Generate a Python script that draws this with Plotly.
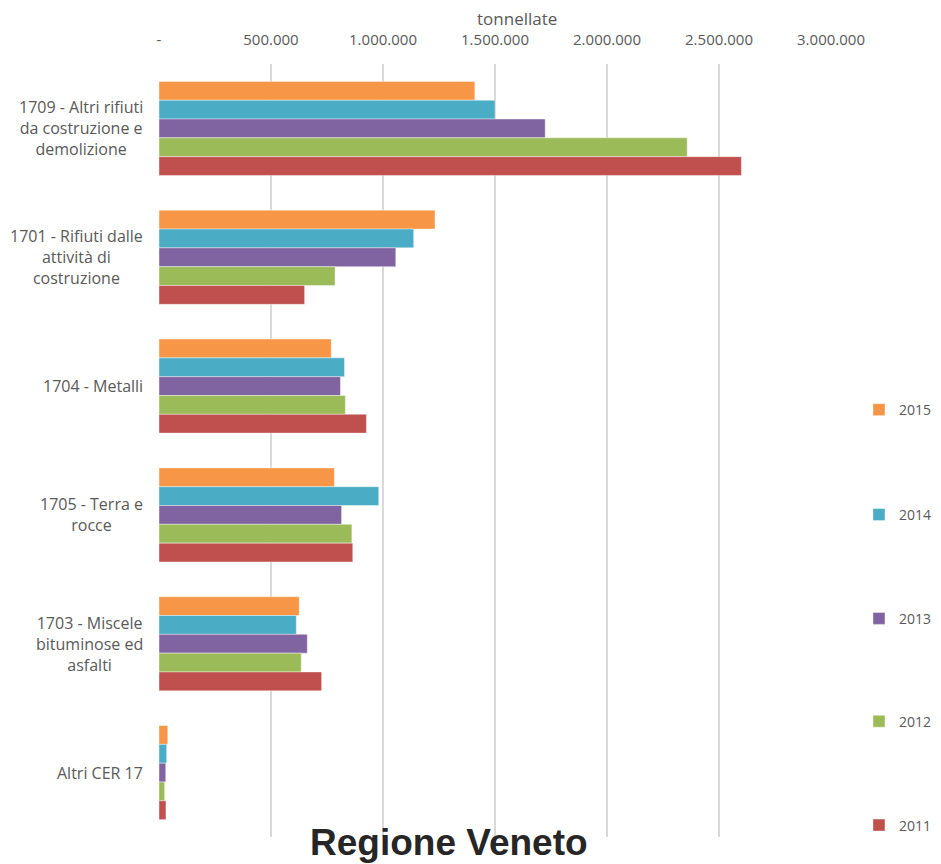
import plotly.graph_objects as go

categories = [
    "1709 - Altri rifiuti<br>da costruzione e<br>demolizione",
    "1701 - Rifiuti dalle<br>attività di<br>costruzione",
    "1704 - Metalli",
    "1705 - Terra e<br>rocce",
    "1703 - Miscele<br>bituminose ed<br>asfalti",
    "Altri CER 17",
]
years = ["2015", "2014", "2013", "2012", "2011"]
v2015 = [1410000, 1232000, 769000, 783000, 626000, 39000]
v2014 = [1500000, 1137000, 828000, 981000, 613000, 34000]
v2013 = [1724000, 1057000, 810000, 815000, 662000, 30000]
v2012 = [2358000, 786000, 832000, 861000, 635000, 25000]
v2011 = [2600000, 650000, 926000, 865000, 726000, 31000]
series = [v2015, v2014, v2013, v2012, v2011]
colors = ["#F79646", "#4BACC6", "#8064A2", "#9BBB59", "#C0504D"]
tick_vals = [0, 500000, 1000000, 1500000, 2000000, 2500000, 3000000]
tick_text = ["-", "500.000", "1.000.000", "1.500.000", "2.000.000", "2.500.000", "3.000.000"]

FONT = "Open Sans"
GRAY = "#595959"

W, H = 925, 856  # page body has an 8px offset
L, T, PW, PH = 150.5, 55.5, 672.5, 774.0
R = W - L - PW
B = H - T - PH


def px(x):
    return (x - L) / PW


def py(y):
    return (T + PH - y) / PH


legend_ids = ["legend", "legend2", "legend3", "legend4", "legend5"]
legend_y_fig = [402, 507, 611, 714, 818]

fig = go.Figure()
for yr, vals, col, lid in zip(years, series, colors, legend_ids):
    fig.add_trace(go.Bar(
        name=yr, y=categories, x=vals, orientation="h",
        marker=dict(color=col, line=dict(color="rgba(255,255,255,0.5)", width=0.8)),
        legend=lid, showlegend=True,
    ))

annotations = []
for c in categories:
    annotations.append(dict(
        x=0, xref="x domain", xshift=-14, y=c, yref="y",
        text=c, showarrow=False, xanchor="right", yanchor="middle", align="center",
        font=dict(family=FONT, size=16, color=GRAY),
    ))
annotations.append(dict(
    x=px(509), xref="paper", y=py(10), yref="paper", text="tonnellate",
    showarrow=False, xanchor="center", yanchor="middle",
    font=dict(family=FONT, size=17, color=GRAY),
))
annotations.append(dict(
    x=px(441), xref="paper", y=py(835), yref="paper",
    text="<b>Regione Veneto</b>",
    showarrow=False, xanchor="center", yanchor="middle",
    font=dict(family="Liberation Sans, Arial", size=37, color="#262626"),
))

legend_common = dict(
    xref="paper", yref="paper", x=px(851), xanchor="left", yanchor="middle",
    font=dict(family=FONT, size=14, color=GRAY), itemwidth=30,
    bgcolor="rgba(0,0,0,0)",
)
legends = {}
for lid, yf in zip(legend_ids, legend_y_fig):
    legends[lid] = dict(legend_common, y=py(yf))

fig.update_layout(
    width=W, height=H,
    margin=dict(l=L, r=R, t=T, b=B, autoexpand=False),
    paper_bgcolor="white", plot_bgcolor="white",
    showlegend=True,
    barmode="group", bargap=0.27, bargroupgap=0,
    font=dict(family=FONT, size=14, color=GRAY),
    xaxis=dict(
        side="top", range=[0, 3000000], tickvals=tick_vals, ticktext=tick_text,
        showgrid=True, gridcolor="#d9d9d9", gridwidth=2, zeroline=False,
        showline=False, ticks="outside", ticklen=12, tickcolor="rgba(0,0,0,0)",
        tickfont=dict(family=FONT, size=15, color=GRAY),
        automargin=False, fixedrange=True,
    ),
    yaxis=dict(
        autorange="reversed", showticklabels=False, showgrid=False, zeroline=False,
        showline=False, ticks="", automargin=False,
    ),
    annotations=annotations,
    **legends,
)

fig.write_html("out.html")
